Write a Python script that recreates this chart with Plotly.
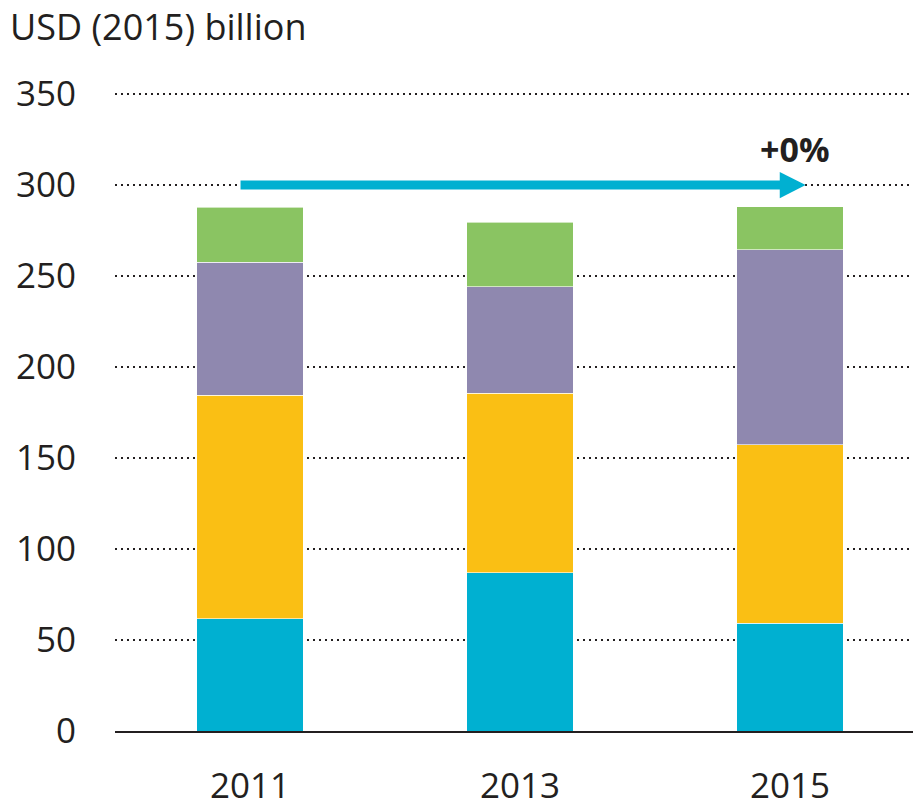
import plotly.graph_objects as go

years = ["2011", "2013", "2015"]
seg_blue = [61.8, 86.9, 59.1]
seg_yellow = [122.6, 98.6, 98.2]
seg_purple = [73.2, 58.7, 107.1]
seg_green = [30.2, 35.5, 23.7]
y_ticks = [0, 50, 100, 150, 200, 250, 300, 350]
change_label = "+0%"
unit_label = "USD (2015) billion"
trend_level = 300

colors = ["#00B0D1", "#FABF14", "#8F88AF", "#8AC462"]
series = [seg_blue, seg_yellow, seg_purple, seg_green]

xpos = list(range(len(years)))

fig = go.Figure()
for vals, col in zip(series, colors):
    fig.add_trace(go.Bar(
        x=xpos, y=vals, width=0.396,
        marker=dict(color=col, line=dict(color="rgba(255,255,255,0.6)", width=1)),
        showlegend=False, hoverinfo="skip",
    ))

font = "Open Sans, Noto Sans, sans-serif"
arrow_col = "#00B0D1"
x_start, x_head, x_tip = -0.035, 1.962, 2.058
half = 7.2
fig.add_shape(type="line", x0=x_start, x1=x_head + 0.01, y0=trend_level, y1=trend_level,
              line=dict(color=arrow_col, width=9), layer="above")
fig.add_shape(type="path",
              path=f"M {x_head},{trend_level + half} L {x_tip},{trend_level} L {x_head},{trend_level - half} Z",
              fillcolor=arrow_col, line=dict(width=0), layer="above")

fig.add_annotation(x=2.02, y=320, text=f"<b>{change_label}</b>", showarrow=False,
                   font=dict(family=font, size=34, color="#231F20"),
                   xanchor="center", yanchor="middle")

# page body has an 8px default margin, so the figure is offset by (8, 8)
W, H = 913, 793
fig.update_layout(
    width=W, height=H,
    margin=dict(l=107, r=0, t=85, b=70, autoexpand=False),
    paper_bgcolor="white", plot_bgcolor="white",
    barmode="stack",
    font=dict(family=font, size=35, color="#231F20"),
    title=dict(text=unit_label, x=2 / W, xanchor="left", xref="container",
               y=1 - 19 / H, yanchor="middle", yref="container",
               font=dict(family=font, size=36, color="#231F20")),
    xaxis=dict(
        range=[-0.5, -0.5 + 806 / 270],
        tickvals=xpos, ticktext=years,
        showgrid=False, zeroline=False,
        showline=True, linecolor="#231F20", linewidth=2,
        ticks="", ticklabelstandoff=23, automargin=False,
        tickfont=dict(family=font, size=35, color="#231F20"),
    ),
    yaxis=dict(
        range=[0, 350.6],
        tickvals=y_ticks,
        showgrid=True, gridcolor="#231F20", gridwidth=2.2, griddash="2px,4px",
        zeroline=False, showline=False,
        ticks="", ticklabelstandoff=38, automargin=False,
        tickfont=dict(family=font, size=35, color="#231F20"),
    ),
)

fig.write_html("out.html")
